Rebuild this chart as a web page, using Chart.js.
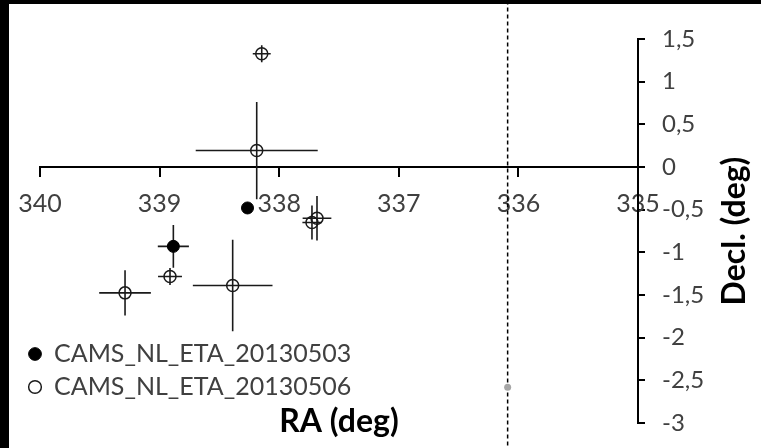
<!DOCTYPE html>
<html>
<head>
<meta charset="utf-8">
<script src="https://cdn.jsdelivr.net/npm/chart.js@4/dist/chart.umd.min.js"></script>
<style>
  html, body { margin: 0; padding: 0; background: #000; width: 761px; height: 448px; overflow: hidden; }
  #wrap { position: absolute; left: 9px; top: 4px; width: 752px; height: 444px; background: #fff; }
  #c { display: block; }
</style>
</head>
<body>
<div id="wrap"><canvas id="c" width="752" height="444"></canvas></div>
<script>
// ---- data ----
const seriesNames = ['CAMS_NL_ETA_20130503', 'CAMS_NL_ETA_20130506'];

const filledRA     = [338.265, 338.885];
const filledDec    = [-0.48, -0.93];
const filledRAErr  = [0, 0.13];
const filledDecErr = [0, 0.25];

const openRA     = [338.146, 338.188, 337.726, 337.684, 338.913, 339.289, 338.389];
const openDec    = [1.327, 0.193, -0.65, -0.60, -1.284, -1.475, -1.389];
const openRAErr  = [0.075, 0.51, 0.08, 0.12, 0.10, 0.216, 0.333];
const openDecErr = [0.10, 0.57, 0.20, 0.26, 0.10, 0.264, 0.535];

const radiantRA  = [336.09];
const radiantDec = [-2.58];
const radiantLineDec = [1.95, -3.4];

const xTickValues = [335, 336, 337, 338, 339, 340];
const xTickLabels = ['335', '336', '337', '338', '339', '340'];
const yTickValues = [-3, -2.5, -2, -1.5, -1, -0.5, 0, 0.5, 1, 1.5];
const yTickLabels = ['-3', '-2,5', '-2', '-1,5', '-1', '-0,5', '0', '0,5', '1', '1,5'];

const xTitle = 'RA (deg)';
const yTitle = 'Decl. (deg)';

// ---- helpers ----
const pts = (xs, ys) => xs.map((x, i) => ({ x: x, y: ys[i] }));
const labelFor = (values, labels) => (v) => {
  const i = values.findIndex(t => Math.abs(t - v) < 1e-9);
  return i >= 0 ? labels[i] : '';
};

const errorBars = {
  id: 'errorBars',
  beforeDatasetsDraw(chart) {
    const { ctx, scales: { x, y } } = chart;
    ctx.save();
    ctx.strokeStyle = '#1a1a1a';
    ctx.lineWidth = 1.6;
    chart.data.datasets.forEach(ds => {
      if (!ds.errX) return;
      ds.data.forEach((p, i) => {
        const ex = ds.errX[i], ey = ds.errY[i];
        ctx.beginPath();
        if (ex > 0) {
          ctx.moveTo(x.getPixelForValue(p.x - ex), y.getPixelForValue(p.y));
          ctx.lineTo(x.getPixelForValue(p.x + ex), y.getPixelForValue(p.y));
        }
        if (ey > 0) {
          ctx.moveTo(x.getPixelForValue(p.x), y.getPixelForValue(p.y - ey));
          ctx.lineTo(x.getPixelForValue(p.x), y.getPixelForValue(p.y + ey));
        }
        ctx.stroke();
      });
    });
    ctx.restore();
  }
};

const axisTitles = {
  id: 'axisTitles',
  afterDraw(chart) {
    const { ctx, chartArea: a } = chart;
    ctx.save();
    ctx.fillStyle = '#000';
    ctx.font = 'bold 32px Lato';
    ctx.textAlign = 'center';
    ctx.textBaseline = 'middle';
    ctx.fillText(xTitle, (a.left + a.right) / 2, a.bottom - 1);
    ctx.translate(a.right + 97, (a.top + a.bottom) / 2);
    ctx.rotate(-Math.PI / 2);
    ctx.fillText(yTitle, 0, 0);
    ctx.restore();
  }
};

const legendPlace = {
  id: 'legendPlace',
  afterLayout(chart) {
    const lg = chart.legend;
    if (!lg) return;
    lg.left = 11.5;
    lg.right = lg.left + lg.width;
    lg.top = 329.5;
    lg.bottom = chart.height;
  }
};

new Chart(document.getElementById('c'), {
  type: 'scatter',
  data: {
    datasets: [
      {
        label: seriesNames[0],
        data: pts(filledRA, filledDec),
        errX: filledRAErr, errY: filledDecErr,
        backgroundColor: '#000', borderColor: '#000',
        pointRadius: 6, borderWidth: 1
      },
      {
        label: seriesNames[1],
        data: pts(openRA, openDec),
        errX: openRAErr, errY: openDecErr,
        backgroundColor: 'rgba(0,0,0,0)', borderColor: '#1a1a1a',
        pointRadius: 6, borderWidth: 1.5
      },
      {
        label: 'radiant',
        data: pts(radiantRA, radiantDec),
        backgroundColor: '#a6a6a6', borderColor: '#a6a6a6',
        pointRadius: 3.5, borderWidth: 0
      },
      {
        type: 'line',
        label: 'radiant line',
        data: pts([radiantRA[0], radiantRA[0]], radiantLineDec),
        borderColor: '#000', borderWidth: 1.5, borderDash: [4, 3],
        pointRadius: 0, clip: false, fill: false
      }
    ]
  },
  options: {
    responsive: false,
    maintainAspectRatio: false,
    animation: false,
    devicePixelRatio: 1,
    layout: { padding: { left: 31, top: 35, right: 0, bottom: 25 } },
    plugins: {
      tooltip: { enabled: false },
      title: { display: false },
      legend: {
        position: 'chartArea',
        align: 'start',
        labels: {
          filter: (item) => seriesNames.includes(item.text),
          usePointStyle: true,
          pointStyle: 'circle',
          boxWidth: 13,
          boxHeight: 9,
          padding: 8,
          color: '#404040',
          font: { family: 'Lato', size: 25 }
        }
      }
    },
    scales: {
      x: {
        type: 'linear',
        reverse: true,
        min: 335, max: 340,
        position: { y: 0 },
        afterBuildTicks: (s) => { s.ticks = xTickValues.map(v => ({ value: v })); },
        ticks: {
          callback: labelFor(xTickValues, xTickLabels),
          color: '#404040',
          font: { family: 'Lato', size: 25 },
          padding: 13,
          maxRotation: 0,
          autoSkip: false
        },
        grid: { drawOnChartArea: false, drawTicks: true, tickLength: 9, color: '#000', lineWidth: 2 },
        border: { display: true, color: '#000', width: 2 }
      },
      y: {
        type: 'linear',
        min: -3, max: 1.5,
        position: 'right',
        afterBuildTicks: (s) => { s.ticks = yTickValues.map(v => ({ value: v })); },
        afterFit: (s) => { s.width = 123; s.paddingTop = 0; s.paddingBottom = 0; },
        ticks: {
          callback: labelFor(yTickValues, yTickLabels),
          color: '#404040',
          font: { family: 'Lato', size: 24 },
          padding: 17,
          autoSkip: false
        },
        grid: { drawOnChartArea: false, drawTicks: true, tickLength: 7, color: '#000', lineWidth: 2 },
        border: { display: true, color: '#000', width: 2 }
      }
    }
  },
  plugins: [errorBars, axisTitles, legendPlace]
});
</script>
</body>
</html>
